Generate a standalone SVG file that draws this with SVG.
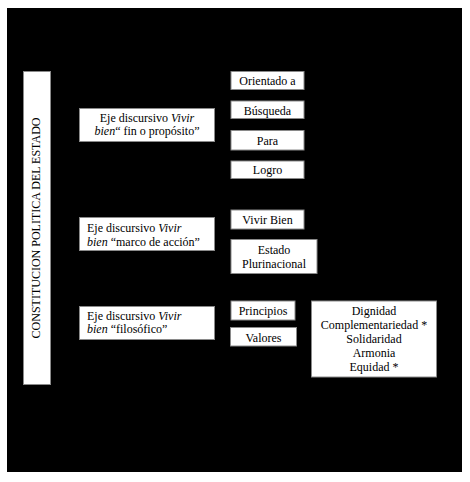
<svg xmlns="http://www.w3.org/2000/svg" width="470" height="482" viewBox="0 0 470 482">
<style>
.box{fill:#ffffff;stroke:#8a8a8a;stroke-width:1}
text{font-family:"Liberation Serif","Times New Roman",serif;font-size:12px;fill:#000}
.c{text-anchor:middle}
.i{font-style:italic}
</style>
<rect x="0" y="0" width="470" height="482" fill="#ffffff"/>
<rect x="7" y="8" width="455" height="464" fill="#000000"/>
<g id="connectors"/>
<g id="constitucion">
<rect class="box" x="23.5" y="71.5" width="27" height="313"/>
<text class="c" transform="translate(39.5,228) rotate(-90)" font-size="11.4">CONSTITUCION POLITICA DEL ESTADO</text>
</g>
<g id="eje1">
<rect class="box" x="79.5" y="108.5" width="135" height="33"/>
<text class="c" x="147" y="122">Eje discursivo <tspan class="i">Vivir</tspan></text>
<text class="c" x="147" y="135"><tspan class="i">bien</tspan>“ fin o propósito”</text>
</g>
<g id="eje2">
<rect class="box" x="79.5" y="217.5" width="135" height="33"/>
<text x="87" y="232">Eje discursivo <tspan class="i">Vivir</tspan></text>
<text x="87" y="246"><tspan class="i">bien</tspan> “marco de acción”</text>
</g>
<g id="eje3">
<rect class="box" x="79.5" y="306.5" width="135" height="33"/>
<text x="87" y="320">Eje discursivo <tspan class="i">Vivir</tspan></text>
<text x="87" y="333"><tspan class="i">bien</tspan> “filosófico”</text>
</g>
<g id="orientado">
<rect class="box" x="231" y="71.5" width="73" height="18"/>
<text class="c" x="267.5" y="85">Orientado a</text>
</g>
<g id="busqueda">
<rect class="box" x="231" y="101" width="73" height="17.5"/>
<text class="c" x="267.5" y="114.5">Búsqueda</text>
</g>
<g id="para">
<rect class="box" x="231" y="130.5" width="73" height="19.5"/>
<text class="c" x="267.5" y="144.5">Para</text>
</g>
<g id="logro">
<rect class="box" x="231" y="161" width="73" height="17.5"/>
<text class="c" x="267.5" y="174">Logro</text>
</g>
<g id="vivirbien">
<rect class="box" x="231" y="210" width="73" height="19"/>
<text class="c" x="267.5" y="224">Vivir Bien</text>
</g>
<g id="estado">
<rect class="box" x="231" y="239.5" width="86" height="34"/>
<text class="c" x="274" y="254">Estado</text>
<text class="c" x="274" y="268">Plurinacional</text>
</g>
<g id="principios">
<rect class="box" x="231" y="301" width="64" height="19"/>
<text class="c" x="263" y="315">Principios</text>
</g>
<g id="valores">
<rect class="box" x="230.5" y="327.5" width="66" height="18.5"/>
<text class="c" x="263.5" y="341.5">Valores</text>
</g>
<g id="valoreslista">
<rect class="box" x="311.5" y="301" width="125" height="76"/>
<text class="c" x="374" y="315">Dignidad</text>
<text class="c" x="374" y="329">Complementariedad *</text>
<text class="c" x="374" y="343">Solidaridad</text>
<text class="c" x="374" y="357">Armonia</text>
<text class="c" x="374" y="371">Equidad *</text>
</g>
</svg>
